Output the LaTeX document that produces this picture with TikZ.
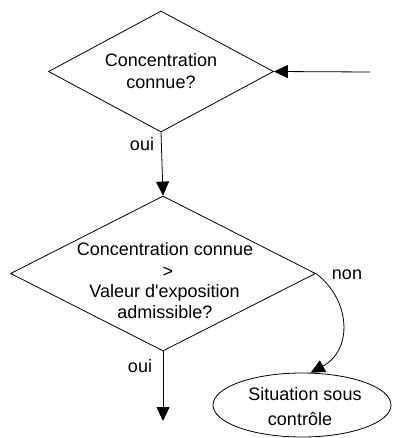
\documentclass[tikz,border=0pt]{standalone}
\usepackage{fontspec}
\setmainfont{Liberation Sans}
\usetikzlibrary{shapes.geometric,arrows.meta}
\begin{document}
\begin{tikzpicture}[x=1pt,y=-1pt,
  line width=0.8pt,
  decision/.style={draw,diamond,inner sep=0pt},
  terminal/.style={draw,ellipse,inner sep=0pt},
  txt/.style={inner sep=0pt,anchor=base,font=\fontsize{18}{21}\selectfont},
  flow/.style={-{Triangle[length=14pt,width=13pt]}}]
\useasboundingbox (0,0) rectangle (392,438);
\clip (0,0) rectangle (392,438);
% decision 1
\node[decision,minimum width=225pt,minimum height=121pt] (d1) at (161,71.5) {};
\node[txt] (d1a) at (161,67) {Concentration};
\node[txt] (d1b) at (161,89) {connue?};
% decision 2
\node[decision,minimum width=305pt,minimum height=155pt] (d2) at (163,273.5) {};
\node[txt] (d2a) at (165,255) {Concentration connue};
\node[txt] (d2b) at (168,277) {>};
\node[txt] (d2c) at (164.5,297) {Valeur d\textquotesingle exposition};
\node[txt] (d2d) at (165,318) {admissible?};
% terminal
\node[terminal,minimum width=178pt,minimum height=64pt] (t) at (302,405) {};
\node[txt] (ta) at (305,400) {Situation sous};
\node[txt] (tb) at (300,425) {contrôle};
% free ends
\coordinate (in) at (370,72);
\coordinate (out) at (163,421);
% connectors
\draw[flow] (in) -- (d1.east);
\draw[flow] (d1.south) -- (d2.north);
\draw[flow] (d2.south) -- (out);
\draw[flow] (d2.east) .. controls (351,300) and (353,350) .. (t.75);
% labels
\node[txt] (l1) at (142,151) {oui};
\node[txt] (l2) at (140,372) {oui};
\node[txt] (l3) at (347,279) {non};
\end{tikzpicture}
\end{document}
